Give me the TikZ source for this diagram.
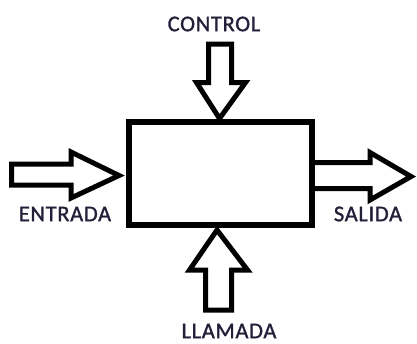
\documentclass[tikz,border=0pt]{standalone}
\usepackage{fontspec}
\setmainfont{Carlito}
\definecolor{lbltext}{RGB}{34,32,56}
\begin{document}
\begin{tikzpicture}[x=1pt,y=-1pt,
  lbl/.style={font=\fontsize{22.5}{26}\selectfont\addfontfeature{LetterSpace=3,FakeBold=1.2}, text=lbltext, inner sep=0pt},
  blockarrow/.style={line width=5pt, line join=miter}]
  \useasboundingbox (0,0) rectangle (417,343);
  % Process box
  \node[draw, line width=6pt, minimum width=183.5pt, minimum height=103.3pt, inner sep=0pt] (proc) at (220.25,173.35) {};
  % Labels
  \node[lbl] (control) at (214,24) {CONTROL};
  \node[lbl] (entrada) at (65,214) {ENTRADA};
  \node[lbl] (salida) at (368,214) {SALIDA};
  \node[lbl] (llamada) at (229,331) {LLAMADA};
  % Block arrows
  \draw[blockarrow] (208.5,44) -- (231.5,44) -- (231.5,82.5) -- (245.5,82.5)
    -- (219.5,118.5) -- (196.5,82.5) -- (208.5,82.5) -- cycle;
  \draw[blockarrow] (205.5,310) -- (231.5,310) -- (231.5,270) -- (247.5,270)
    -- (217,230) -- (189.5,270) -- (205.5,270) -- cycle;
  \draw[blockarrow] (11.5,164) -- (71,164) -- (71,152) -- (119,175.5)
    -- (71,198) -- (71,185) -- (11.5,185) -- cycle;
  \draw[blockarrow] (proc.east |- 0,162.5) -- (370,162.5) -- (370,152.5) -- (411,176.5)
    -- (370,200) -- (370,188.5) -- (proc.east |- 0,188.5);
\end{tikzpicture}
\end{document}
